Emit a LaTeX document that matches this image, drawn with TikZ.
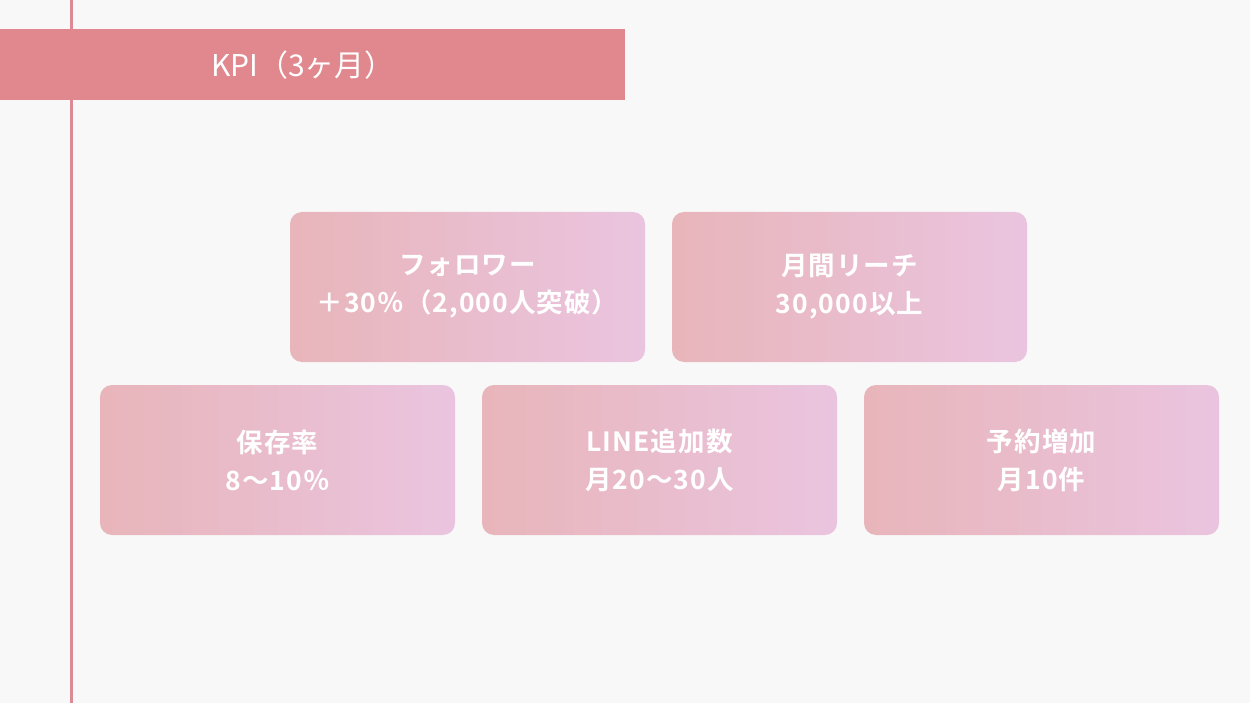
\documentclass[tikz,border=0pt]{standalone}
\usepackage{fontspec}
\setmainfont{Noto Sans CJK JP}
\newfontfamily\jpb[BoldFont={* Bold},LetterSpace=4]{Noto Sans CJK JP}
\newfontfamily\jpl{Noto Sans CJK JP}
\definecolor{bg}{HTML}{F8F8F8}
\definecolor{barc}{HTML}{E0888D}
\definecolor{linec}{HTML}{DE8A94}
\definecolor{gl}{HTML}{E8B5BA}
\definecolor{gr}{HTML}{EAC4DF}
\tikzset{
  kpibox/.style={rounded corners=12pt, left color=gl, right color=gr, draw=none,
    minimum width=355pt, minimum height=150pt, inner sep=0pt,
    text=white, align=center, font=\jpb\bfseries\fontsize{26.5}{38}\selectfont},
}
\begin{document}
\begin{tikzpicture}[x=1pt,y=-1pt]
\useasboundingbox (0,0) rectangle (1250,703);
\fill[bg] (0,0) rectangle (1250,703);
\coordinate (ltop) at (71,0);
\coordinate (lbot) at (71,703);
\draw[linec, line width=3pt] (ltop) -- (lbot);
\node[fill=barc, minimum width=625pt, minimum height=71pt, inner sep=0pt, anchor=north west] (bar) at (0,29) {};
\node[text=white, font=\jpl\fontsize{30}{34}\selectfont] (title) at (303,65) {KPI（3ヶ月）};
\node[kpibox] (b1) at (467.5,287) {フォロワー\\＋30％（2,000人突破）};
\node[kpibox] (b2) at (849.5,287) {月間リーチ\\30,000以上};
\node[kpibox] (b3) at (277.5,460) {保存率\\8～10％};
\node[kpibox] (b4) at (659.5,460) {LINE追加数\\月20～30人};
\node[kpibox] (b5) at (1041.5,460) {予約増加\\月10件};
\end{tikzpicture}
\end{document}
